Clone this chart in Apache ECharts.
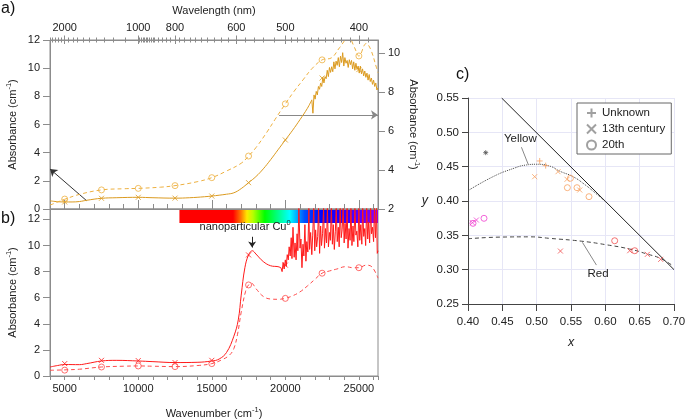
<!DOCTYPE html>
<html><head><meta charset="utf-8">
<script src="https://cdn.jsdelivr.net/npm/echarts@6/dist/echarts.min.js"></script>
<style>html,body{margin:0;padding:0;background:#fff}#c{width:685px;height:420px}</style>
</head><body><div id="c"></div>
<script>
// ---------- tick label data ----------
const wnMin = 4000, wnMax = 26300;
const wlLabels = [2000, 1000, 800, 600, 500, 400];
const wlTicks = [2500,2400,2300,2200,2100,2000,1900,1800,1700,1600,1500,1400,1300,1200,1100,1000,990,980,970,960,950,940,930,920,910,900,880,860,840,820,800,780,760,740,720,700,680,660,640,620,600,580,560,540,520,500,490,480,470,460,450,440,430,420,410,400,390];
const wnLabels = [5000, 10000, 15000, 20000, 25000];
const absTicksA = [0,2,4,6,8,10,12];
const absTicksRight = [2,4,6,8,10];
const absTicksB = [0,2,4,6,8,10,12];

// ---------- panel a (orange) ----------
const aSolidSmooth = [[4000,0.58],[4500,0.52],[5000,0.5],[5500,0.5],[6000,0.53],[6500,0.62],[7500,0.76],[8500,0.8],[10000,0.83],[11000,0.8],[12500,0.77],[13500,0.8],[14500,0.87],[15000,0.92],[15500,0.98],[16000,1.05],[16500,1.15],[17000,1.45],[17500,1.87],[18000,2.3],[18500,2.85],[19000,3.5],[19500,4.2],[20000,4.9],[20500,5.6],[21000,6.35],[21500,7.15],[21800,7.75]];
const aSolidNoise = [[21800,7.75],[21875,6.8],[21950,8.1],[22025,7.8],[22100,8.35],[22175,8.1],[22250,8.7],[22325,8.5],[22400,8.95],[22475,8.7],[22550,9.35],[22625,8.95],[22700,9.4],[22775,9.25],[22850,9.85],[22925,9.4],[23000,10.05],[23075,9.7],[23150,10.1],[23225,9.75],[23300,10.45],[23375,9.95],[23450,10.5],[23525,10.2],[23600,10.75],[23675,10.1],[23750,10.85],[23825,10.4],[23900,11.1],[23975,10.15],[24050,10.75],[24125,10.35],[24200,10.55],[24275,10.05],[24350,10.6],[24425,10.25],[24500,10.55],[24575,9.95],[24650,10.45],[24725,9.85],[24800,10.35],[24875,9.9],[24950,10.15],[25025,9.65],[25100,10.15],[25175,9.6],[25250,9.95],[25325,9.45],[25400,9.8],[25475,9.35],[25550,9.65],[25625,9.15],[25700,9.55],[25775,9.05],[25850,9.3],[25925,8.85],[26000,9.15],[26075,8.7],[26150,8.95],[26225,8.45],[26300,8.6]];
const aSolidMarks = [[5000,0.5],[7500,0.76],[10000,0.83],[12500,0.77],[15000,0.92],[17500,1.87],[20000,4.9],[22500,9.3],[25000,9.9]];
const aDashed = [[4000,2.2],[4500,2.35],[5000,2.5],[6000,2.75],[7500,2.98],[9000,3.04],[10000,3.06],[11500,3.12],[12500,3.2],[14000,3.4],[15000,3.61],[16000,3.95],[17000,4.35],[17500,4.72],[18000,5.15],[18750,5.95],[19300,6.6],[20000,7.4],[20600,8.05],[21200,8.63],[21800,9.2],[22500,9.66],[23150,9.77],[23700,10.3],[24300,10.8],[24700,10.3],[25000,9.86],[25500,10.5],[25800,10.2],[26200,9.25],[26300,9.0]];
const aDashedMarks = [[5000,2.51],[7500,2.98],[10000,3.06],[12500,3.2],[15000,3.61],[17500,4.72],[20000,7.4],[22500,9.66],[25000,9.86]];

// ---------- panel b (red) ----------
const bSolidSmooth = [[4000,0.69],[4500,0.8],[5000,0.88],[6000,0.87],[6500,0.95],[7500,1.15],[8500,1.2],[10000,1.15],[11000,1.1],[12500,1.03],[14000,1.05],[15000,1.15],[15500,1.3],[16000,1.8],[16500,3.05],[16800,4.3],[17000,6.2],[17250,8.3],[17500,9.28],[17760,9.6],[18000,9.35],[18500,8.77],[19000,8.45],[19500,8.38],[19700,8.3]];
const bSolidNoise = [[19700,8.3],[19780,8.0],[19850,8.7],[19920,8.2],[20000,8.9],[20060,8.4],[20130,9.3],[20200,8.9],[20260,9.9],[20330,9.2],[20400,10.6],[20450,9.0],[20520,11.4],[20600,9.1],[20660,10.2],[20730,8.9],[20800,10.9],[20850,9.6],[20920,12.9],[21000,9.8],[21060,10.5],[21130,8.3],[21200,10.1],[21260,9.2],[21330,11.6],[21400,8.8],[21460,10.3],[21530,9.5],[21600,12.9],[21650,9.7],[21720,11.0],[21800,9.3],[21860,10.8],[21930,12.9],[22000,9.6],[22060,11.2],[22130,9.9],[22200,10.7],[22260,12.9],[22330,9.4],[22400,11.5],[22460,10.0],[22530,10.9],[22600,12.9],[22660,9.8],[22730,11.3],[22800,10.2],[22860,12.9],[22930,9.9],[23000,11.0],[23060,10.4],[23130,12.9],[23200,10.1],[23260,11.6],[23330,9.7],[23400,11.1],[23460,12.9],[23530,10.3],[23600,11.4],[23660,9.9],[23730,12.9],[23800,10.6],[23860,11.2],[23930,12.9],[24000,10.2],[24060,11.7],[24130,10.5],[24200,12.9],[24260,9.8],[24330,11.3],[24400,10.4],[24460,12.9],[24530,10.0],[24600,11.5],[24660,10.3],[24730,12.9],[24800,10.8],[24860,11.1],[24930,9.9],[25000,12.9],[25060,10.4],[25130,11.6],[25200,10.1],[25260,12.9],[25330,10.7],[25400,11.3],[25460,10.0],[25530,12.9],[25600,10.5],[25660,11.8],[25730,10.2],[25800,12.9],[25860,10.9],[25930,11.4],[26000,10.3],[26060,12.9],[26130,10.6],[26200,12.9],[26250,9.4],[26300,9.6]];
const bSolidMarks = [[5000,0.95],[7500,1.2],[10000,1.18],[12500,1.03],[15000,1.2],[17500,9.28],[20000,8.5]];
const bDashed = [[4000,0.44],[5000,0.47],[6000,0.52],[7500,0.69],[9000,0.75],[10000,0.77],[11000,0.75],[12500,0.72],[14000,0.8],[15000,0.95],[15700,1.25],[16200,1.6],[16500,2.1],[16750,3.2],[17000,4.9],[17300,6.5],[17500,6.98],[17700,7.1],[18000,6.7],[18500,6.1],[19000,5.9],[19500,5.88],[20000,5.95],[20500,6.15],[21000,6.45],[21500,6.9],[22000,7.4],[22500,7.88],[23000,8.05],[23500,8.2],[24100,8.38],[24600,8.3],[25000,8.3],[25500,8.5],[25900,8.35],[26300,7.5]];
const bDashedMarks = [[5000,0.45],[7500,0.69],[10000,0.77],[12500,0.72],[15000,0.95],[17500,6.98],[20000,5.95],[22500,7.88],[25000,8.3]];

// ---------- panel c (chromaticity) ----------
const locusLine = [[0.449,0.55],[0.70,0.30]];
const yellowCurve = [[0.40,0.415],[0.4364,0.4354],[0.465,0.447],[0.485,0.4525],[0.50,0.4535],[0.52,0.4505],[0.5335,0.4435],[0.553,0.4354],[0.57,0.424],[0.585,0.412],[0.6015,0.398]];
const redCurve = [[0.40,0.345],[0.45,0.3475],[0.49,0.3478],[0.52,0.3455],[0.565,0.3415],[0.60,0.3365],[0.6355,0.330],[0.66,0.323],[0.68,0.3165],[0.6985,0.3055]];
const unknownOrange = [[0.5044,0.4583],[0.5131,0.4515]];
const c13Orange = [[0.4971,0.4354],[0.5311,0.4427],[0.5442,0.4316],[0.5627,0.416]];
const c20Orange = [[0.5491,0.4331],[0.5447,0.4194],[0.5587,0.4194],[0.5762,0.4063]];
const c13Magenta = [[0.4064,0.3684],[0.4122,0.3723]];
const c20Magenta = [[0.4073,0.3675],[0.4233,0.3748]];
const c13Red = [[0.5346,0.3271],[0.6355,0.3276],[0.6612,0.3223],[0.6806,0.315]];
const c20Red = [[0.6136,0.3421],[0.6428,0.3276]];
const otherBlack = [[0.4258,0.4704]];

// ---------- styles ----------
const FONT = 'Liberation Sans, Arial, sans-serif';
const GRAY = '#8c8c8c';
const ORANGE = '#DB9A1F', ORANGE2 = '#EDB040';
const RED = '#FF1A1A', RED2 = '#FF4A4A';
const C_OR = '#F8A060', C_MG = '#F040D0', C_RD = '#F05050';
const CROSS = 'path://M0,0L10,10M10,0L0,10';
const PLUS = 'path://M5,0L5,10M0,5L10,5';
const STAR = 'path://M5,0L5,10M0,5L10,5M1.5,1.5L8.5,8.5M8.5,1.5L1.5,8.5';
const absName = '{t|Absorbance (cm}{s|-1}{t|)}';
const nameRich = {t:{fontSize:11, color:'#222', fontFamily:FONT}, s:{fontSize:7.5, color:'#222', fontFamily:FONT, padding:[0,0,8,0]}};
const inv = v => 1e7 / v;

function xA(grid, pos, extra) {
  return Object.assign({
    type:'value', gridIndex:grid, position:pos, min:wnMin, max:wnMax,
    axisLine:{show:false, onZero:false}, axisTick:{show:false}, axisLabel:{show:false}, splitLine:{show:false}
  }, extra);
}
function mk(name, data, xi, yi, sym, size, col, z) {
  return {type:'scatter', name, data, xAxisIndex:xi, yAxisIndex:yi, symbol:sym, symbolSize:size,
    itemStyle:{color:'transparent', borderColor:col, borderWidth:1}, z:z||6, silent:true};
}
function ln(data, xi, yi, col, type, smooth, extra) {
  return Object.assign({type:'line', data, xAxisIndex:xi, yAxisIndex:yi, showSymbol:false, smooth:smooth,
    lineStyle:{color:col, width:1, type:type}, silent:true, clip:true, z:5}, extra||{});
}

const option = {
  animation:false,
  textStyle:{fontFamily:FONT},
  grid:[
    {left:50, top:40, width:328, height:169, show:true, borderColor:GRAY, borderWidth:1, backgroundColor:'transparent', outerBoundsMode:'none'},
    {left:50, top:209, width:328, height:167, show:true, borderColor:GRAY, borderWidth:1, backgroundColor:'transparent', outerBoundsMode:'none'},
    {left:468, top:98, width:206, height:206, outerBoundsMode:'none'}
  ],
  xAxis:[
    xA(0,'bottom',{interval:1000, axisLine:{show:true,onZero:false,lineStyle:{color:GRAY}}, axisTick:{show:true, inside:true, length:5, lineStyle:{color:GRAY}}}),
    xA(0,'bottom',{axisTick:{show:true, inside:true, length:9, customValues:wnLabels, lineStyle:{color:GRAY}}}),
    xA(0,'top',{axisLine:{show:true,onZero:false,lineStyle:{color:GRAY}},
      axisTick:{show:true, length:2.5, customValues:wlTicks.map(inv), lineStyle:{color:GRAY}},
      axisLabel:{show:true, customValues:wlLabels.map(inv), formatter:v=>String(Math.round(1e7/v)), color:'#222', fontSize:11, margin:7},
      name:'Wavelength (nm)', nameLocation:'middle', nameGap:24, nameTextStyle:{fontSize:11, color:'#222'}}),
    xA(0,'top',{axisTick:{show:true, inside:true, length:2.5, customValues:wlTicks.map(inv), lineStyle:{color:GRAY}}}),
    xA(0,'top',{axisTick:{show:true, length:4.5, customValues:wlLabels.map(inv), lineStyle:{color:GRAY}}}),
    xA(0,'top',{axisTick:{show:true, inside:true, length:4, customValues:wlLabels.map(inv), lineStyle:{color:GRAY}}}),
    xA(1,'bottom',{interval:1000, axisLine:{show:true,onZero:false,lineStyle:{color:GRAY}},
      axisTick:{show:true, length:4, lineStyle:{color:GRAY}},
      axisLabel:{show:true, customValues:wnLabels, formatter:v=>String(Math.round(v)), color:'#222', fontSize:11, margin:7},
      name:absName.replace('Absorbance','Wavenumber'), nameLocation:'middle', nameGap:30, nameTextStyle:{rich:nameRich}}),
    {type:'value', gridIndex:2, position:'bottom', min:0.40, max:0.70, interval:0.05,
      axisLine:{onZero:false, lineStyle:{color:'#444'}}, axisTick:{length:7, lineStyle:{color:'#444'}},
      axisLabel:{formatter:v=>v.toFixed(2), color:'#222', fontSize:11.5, margin:12},
      splitLine:{show:true, lineStyle:{color:'#E6E6F6', width:1}},
      name:'x', nameLocation:'middle', nameGap:32, nameTextStyle:{fontStyle:'italic', fontSize:12.5, color:'#222'}}
  ],
  yAxis:[
    {type:'value', gridIndex:0, position:'left', min:0, max:12, interval:2,
      axisLine:{onZero:false, lineStyle:{color:GRAY}}, axisTick:{length:7, customValues:absTicksA, lineStyle:{color:GRAY}},
      axisLabel:{customValues:absTicksA, color:'#222', fontSize:11, margin:10}, splitLine:{show:false},
      name:absName, nameLocation:'middle', nameGap:29, nameTextStyle:{rich:nameRich}},
    {type:'value', gridIndex:0, position:'right', min:2, max:10.68, interval:2,
      axisLine:{onZero:false, lineStyle:{color:GRAY}}, axisTick:{length:7, customValues:absTicksRight, lineStyle:{color:GRAY}},
      axisLabel:{customValues:absTicksRight, color:'#222', fontSize:11, margin:10}, splitLine:{show:false},
      name:absName, nameLocation:'middle', nameGap:27, nameRotate:-90, nameTextStyle:{rich:nameRich}},
    {type:'value', gridIndex:1, position:'left', min:0, max:12.8, interval:2,
      axisLine:{onZero:false, lineStyle:{color:GRAY}}, axisTick:{length:7, customValues:absTicksB, lineStyle:{color:GRAY}},
      axisLabel:{customValues:absTicksB, color:'#222', fontSize:11, margin:10}, splitLine:{show:false},
      name:absName, nameLocation:'middle', nameGap:29, nameTextStyle:{rich:nameRich}},
    {type:'value', gridIndex:2, position:'left', min:0.25, max:0.55, interval:0.05,
      axisLine:{onZero:false, lineStyle:{color:'#444'}}, axisTick:{length:6, lineStyle:{color:'#444'}},
      axisLabel:{formatter:v=>v.toFixed(2), color:'#222', fontSize:11.5, margin:9},
      splitLine:{show:true, lineStyle:{color:'#E6E6F6', width:1}},
      name:'y', nameLocation:'middle', nameGap:40, nameRotate:0, nameTextStyle:{fontStyle:'italic', fontSize:12.5, color:'#222'}}
  ],
  legend:{
    left:577, top:103, orient:'vertical', itemWidth:11, itemHeight:9, itemGap:4,
    padding:[4,6,3,9], borderColor:'#666', borderWidth:1, backgroundColor:'#fff',
    textStyle:{fontSize:11.5, color:'#222', fontFamily:FONT},
    data:[{name:'Unknown', icon:PLUS},{name:'13th century', icon:CROSS},{name:'20th', icon:'circle'}]
  },
  graphic:[
    {type:'text', left:1, top:1, style:{text:'a)', fontSize:16, fill:'#111', fontFamily:FONT}},
    {type:'text', left:1, top:211, style:{text:'b)', fontSize:16, fill:'#111', fontFamily:FONT}},
    {type:'text', left:456, top:67, style:{text:'c)', fontSize:16, fill:'#111', fontFamily:FONT}}
  ],
  series:[
    // panel a
    ln(aSolidSmooth,0,0,ORANGE,'solid',0.4,{
      markLine:{silent:true, symbol:['none','arrow'], symbolSize:7, label:{show:false},
        lineStyle:{color:'#333', width:1, type:'solid'},
        data:[[{coord:[6488,0.59]},{coord:[4000,2.84]}],
              [{coord:[19573,6.68], lineStyle:{color:'#888', width:1, type:'solid'}},{coord:[26300,6.68]}]]}}),
    ln(aSolidNoise,0,0,ORANGE,'solid',false),
    mk('aX',aSolidMarks,0,0,CROSS,5,ORANGE),
    ln(aDashed,0,1,ORANGE2,'dashed',0.4,{lineStyle:{color:ORANGE2,width:1,type:[4,3]}}),
    mk('aO',aDashedMarks,0,1,'circle',6,ORANGE2),
    // panel b
    ln([],6,2,RED,'solid',false,{z:0,
      markArea:{silent:true, z:0, data:[[{coord:[12800,11.72]},{coord:[26300,12.75]}]],
        itemStyle:{color:new echarts.graphic.LinearGradient(0,0,1,0,[
          {offset:0,color:'#FF0000'},{offset:0.27,color:'#FF0000'},{offset:0.31,color:'#FF7A00'},{offset:0.34,color:'#FFE800'},
          {offset:0.37,color:'#B8FF00'},{offset:0.43,color:'#00FF00'},{offset:0.5,color:'#00FF90'},{offset:0.555,color:'#00FFFF'},
          {offset:0.63,color:'#0050FF'},{offset:0.72,color:'#0000FF'},{offset:0.86,color:'#4400FF'},{offset:1,color:'#8A00FF'}])}}}),
    ln(bSolidSmooth,6,2,RED,'solid',0.4,{
      markLine:{silent:true, symbol:['none','arrow'], symbolSize:6,
        lineStyle:{color:'#222', width:1, type:'solid'},
        label:{show:true, position:'start', distance:2, padding:[0,14,0,0], formatter:'{t|nanoparticular Cu}{s|0}', rich:nameRich},
        data:[[{coord:[17742,10.67]},{coord:[17742,9.85]}]]}}),
    ln(bSolidNoise,6,2,RED,'solid',false,{z:8}),
    mk('bX',bSolidMarks,6,2,CROSS,5,RED),
    ln(bDashed,6,2,RED2,'dashed',0.4,{lineStyle:{color:RED2,width:1,type:[4,3]}}),
    mk('bO',bDashedMarks,6,2,'circle',6,RED2),
    // panel c
    ln(locusLine,7,3,'#222','solid',false),
    ln(yellowCurve,7,3,'#444','dotted',0.5,{
      markLine:{silent:true, symbol:['none','none'], lineStyle:{color:'#888',width:1,type:'solid'},
        label:{show:true, position:'start', distance:3, formatter:'Yellow', color:'#222', fontSize:11.5},
        data:[[{coord:[0.4778,0.4783]},{coord:[0.4875,0.4538]}]]}}),
    ln(redCurve,7,3,'#444','dashed',0.5,{lineStyle:{color:'#444',width:1,type:[4,3]},
      markLine:{silent:true, symbol:['none','none'], lineStyle:{color:'#888',width:1,type:'solid'},
        label:{show:true, position:'start', distance:3, formatter:'Red', color:'#222', fontSize:11.5},
        data:[[{coord:[0.587,0.3067]},{coord:[0.5666,0.3398]}]]}}),
    mk('uO',unknownOrange,7,3,PLUS,6,C_OR),
    mk('xO',c13Orange,7,3,CROSS,5,C_OR),
    mk('oO',c20Orange,7,3,'circle',6,C_OR),
    mk('xM',c13Magenta,7,3,CROSS,5,C_MG),
    mk('oM',c20Magenta,7,3,'circle',6,C_MG),
    mk('xR',c13Red,7,3,CROSS,5,C_RD),
    mk('oR',c20Red,7,3,'circle',6,C_RD),
    mk('other',otherBlack,7,3,STAR,5,'#555'),
    mk('Unknown',[],7,3,PLUS,9,'#888'),
    mk('13th century',[],7,3,CROSS,8,'#888'),
    mk('20th',[],7,3,'circle',9,'#888')
  ]
};
echarts.init(document.getElementById('c'), null, {renderer:'canvas'}).setOption(option);
</script></body></html>
